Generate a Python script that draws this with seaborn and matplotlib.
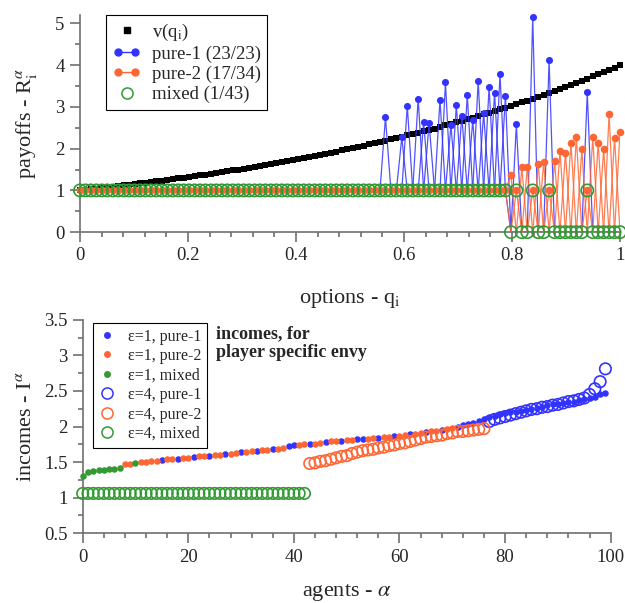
import numpy as np
import pandas as pd
import matplotlib
matplotlib.use("Agg")
import matplotlib.pyplot as plt
from matplotlib.lines import Line2D
from matplotlib.legend_handler import HandlerLine2D
from matplotlib.ticker import MultipleLocator, FormatStrFormatter
import seaborn as sns

# ---- top panel: payoffs of the 100 options ----
options = np.linspace(0, 1, 100)

v_q = [1.00, 1.01, 1.03, 1.04, 1.06, 1.07, 1.09, 1.10, 1.12, 1.13,
       1.15, 1.17, 1.18, 1.20, 1.22, 1.23, 1.25, 1.27, 1.29, 1.30,
       1.32, 1.34, 1.36, 1.38, 1.40, 1.42, 1.44, 1.46, 1.48, 1.50,
       1.52, 1.54, 1.57, 1.59, 1.61, 1.63, 1.66, 1.68, 1.70, 1.73,
       1.75, 1.78, 1.80, 1.83, 1.85, 1.88, 1.90, 1.93, 1.96, 1.99,
       2.01, 2.04, 2.07, 2.10, 2.13, 2.16, 2.19, 2.22, 2.25, 2.28,
       2.32, 2.35, 2.38, 2.42, 2.45, 2.48, 2.52, 2.56, 2.59, 2.63,
       2.67, 2.70, 2.74, 2.78, 2.82, 2.86, 2.90, 2.94, 2.98, 3.02,
       3.07, 3.11, 3.15, 3.20, 3.24, 3.29, 3.33, 3.38, 3.43, 3.48,
       3.53, 3.58, 3.63, 3.68, 3.73, 3.78, 3.84, 3.89, 3.94, 4.00]

# payoff level of the options nobody specialises in
floor = [1] * 79 + [0] * 21

pure1 = ([1] * 56
         + [2.75, 1, 1, 2.27, 3.03, 1, 3.20, 2.64, 2.61, 1, 3.17, 3.59,
            2.56, 3.04, 2.79, 3.29, 2.68, 3.63, 2.85, 3.48, 3.34, 3.78, 3.27]
         + [0, 2.58, 0, 0, 5.15, 0, 0, 4.12, 0, 0, 0, 0, 0, 0, 3.36,
            0, 0, 0, 0, 0, 0])
pure2 = ([1] * 79
         + [1.37, 1, 1.55, 1.55, 1, 1.63, 1.68, 1, 1.70, 1.94, 1.90, 2.14,
            2.28, 1.98, 1, 2.27, 2.14, 1.99, 2.84, 2.26, 2.41])
mixed = ([1] * 79
         + [0, 1, 0, 0, 1, 0, 0, 1, 0, 0, 0, 0, 0, 0, 1, 0, 0, 0, 0, 0, 0])

# ---- bottom panel: incomes of the 100 agents ----
agents = np.arange(100)

income_eps1 = [1.31, 1.36, 1.38, 1.39, 1.39, 1.40, 1.41, 1.42, 1.48, 1.48,
               1.49, 1.50, 1.50, 1.51, 1.52, 1.53, 1.54, 1.54, 1.55, 1.56,
               1.56, 1.57, 1.58, 1.58, 1.59, 1.60, 1.60, 1.61, 1.62, 1.63,
               1.64, 1.64, 1.65, 1.66, 1.67, 1.67, 1.68, 1.69, 1.70, 1.72,
               1.74, 1.74, 1.75, 1.76, 1.76, 1.77, 1.78, 1.79, 1.79, 1.80,
               1.81, 1.81, 1.82, 1.83, 1.83, 1.84, 1.84, 1.85, 1.85, 1.86,
               1.87, 1.88, 1.89, 1.90, 1.91, 1.92, 1.93, 1.94, 1.95, 1.96,
               1.98, 2.00, 2.02, 2.03, 2.05, 2.08, 2.10, 2.13, 2.15, 2.17,
               2.19, 2.20, 2.21, 2.22, 2.23, 2.24, 2.26, 2.28, 2.30, 2.31,
               2.32, 2.33, 2.34, 2.35, 2.37, 2.38, 2.40, 2.42, 2.45, 2.47]
# M = mixed, 1 = pure-1, 2 = pure-2
kind_eps1 = ("MMMMMMMM22M2222"
             "122122122122122122122122"
             "1122"
             "122122122"
             "1122"
             "122122122122122"
             "11111111111111111111111111111")

income_eps4 = ([1.06] * 43
               + [1.48, 1.49, 1.51, 1.52, 1.54, 1.56, 1.58, 1.59, 1.62, 1.64,
                  1.66, 1.67, 1.68, 1.70, 1.71, 1.73, 1.74, 1.76, 1.77, 1.79,
                  1.81, 1.83, 1.85, 1.86, 1.87, 1.88, 1.90, 1.91, 1.93, 1.93,
                  1.94, 1.95, 1.96, 1.97]
               + [2.07, 2.10, 2.12, 2.14, 2.16, 2.18, 2.20, 2.22, 2.24, 2.25,
                  2.27, 2.28, 2.30, 2.31, 2.33, 2.35, 2.36, 2.38, 2.40, 2.45,
                  2.53, 2.63, 2.81])
kind_eps4 = "M" * 43 + "2" * 34 + "1" * 23

BLUE = "#3333ff"
ORANGE = "#ff6633"
GREEN = "#339933"
GREY = "#707070"
kind_color = {"1": BLUE, "2": ORANGE, "M": GREEN}

sns.set_style("ticks")
plt.rcParams["font.family"] = ["Liberation Serif", "DejaVu Serif"]
plt.rcParams["mathtext.fontset"] = "stix"


def spike_segments(vals):
    """Line pieces: the floor line plus a peak joined to the floor of both neighbours."""
    rows = [("floor", options[j], floor[j]) for j in range(len(vals))]
    for i, val in enumerate(vals):
        if val == floor[i]:
            continue
        for j in (i - 1, i, i + 1):
            if 0 <= j < len(vals):
                rows.append((f"p{i}", options[j], val if j == i else floor[j]))
    return pd.DataFrame(rows, columns=["seg", "q", "R"])


def style_axes(ax):
    sns.despine(ax=ax)
    for side in ("left", "bottom"):
        ax.spines[side].set_color(GREY)
        ax.spines[side].set_linewidth(1.2)
    ax.tick_params(which="both", direction="out", color=GREY, width=1.2,
                   labelsize=13.5, pad=4)
    ax.tick_params(which="major", length=7)
    ax.tick_params(which="minor", length=3.5)


fig = plt.figure(figsize=(6.25, 6.03), dpi=100)
ax1 = fig.add_axes([0.128, 0.615, 0.864, 0.36])
ax2 = fig.add_axes([0.1323, 0.1156, 0.8448, 0.3542])

# --- top panel
sns.scatterplot(x=options, y=v_q, marker="s", color="black", s=22,
                linewidth=0, ax=ax1, clip_on=False, zorder=2)

seg1 = spike_segments(pure1)
sns.lineplot(data=seg1, x="q", y="R", units="seg", estimator=None, sort=False,
             color=BLUE, lw=0.9, alpha=0.85, ax=ax1, zorder=3)
peak1 = [i for i in range(100) if pure1[i] != floor[i]]
sns.scatterplot(x=options[peak1], y=[pure1[i] for i in peak1], color=BLUE,
                s=26, linewidth=0, ax=ax1, clip_on=False, zorder=3)

seg2 = spike_segments(pure2)
sns.lineplot(data=seg2, x="q", y="R", units="seg", estimator=None, sort=False,
             color=ORANGE, lw=0.9, alpha=0.85, ax=ax1, zorder=4)
sns.scatterplot(x=options, y=pure2, color=ORANGE, s=30, linewidth=0,
                ax=ax1, clip_on=False, zorder=4)

sns.scatterplot(x=options, y=mixed, color=GREEN, facecolors="none",
                edgecolor=GREEN, s=78, linewidth=1.2, ax=ax1, clip_on=False,
                zorder=5)

ax1.set_xlim(0, 1)
ax1.set_ylim(0, 5.2)
ax1.xaxis.set_major_locator(MultipleLocator(0.2))
ax1.xaxis.set_minor_locator(MultipleLocator(0.04))
ax1.yaxis.set_major_locator(MultipleLocator(1))
ax1.yaxis.set_minor_locator(MultipleLocator(0.5))
ax1.xaxis.set_major_formatter(FormatStrFormatter("%g"))
ax1.yaxis.set_major_formatter(FormatStrFormatter("%g"))
style_axes(ax1)
ax1.set_xlabel(r"options - q$_{\rm i}$", fontsize=16, labelpad=16)
ax1.set_ylabel(r"payoffs - R$_{\rm i}^{\alpha}$", fontsize=16, labelpad=12)

h_v = Line2D([], [], ls="none", marker="s", color="black", ms=4)
h_p1 = Line2D([], [], color=BLUE, marker="o", ms=5, lw=1)
h_p2 = Line2D([], [], color=ORANGE, marker="o", ms=5, lw=1)
h_mx = Line2D([], [], ls="none", marker="o", mfc="none", mec=GREEN, ms=8,
              mew=1.1)
leg1 = ax1.legend([h_v, h_p1, h_p2, h_mx],
                  [r"v(q$_{\rm i}$)", "pure-1 (23/23)", "pure-2 (17/34)",
                   "mixed (1/43)"],
                  loc="upper left", bbox_to_anchor=(0.048, 1.0), numpoints=2,
                  handler_map={h_v: HandlerLine2D(numpoints=1),
                               h_mx: HandlerLine2D(numpoints=1)},
                  fancybox=False, edgecolor="black", framealpha=1,
                  fontsize=13.5, handlelength=1.5, handletextpad=0.6,
                  labelspacing=0.15, borderpad=0.35, borderaxespad=0)
leg1.get_frame().set_linewidth(0.8)

# --- bottom panel
for code in ("1", "2", "M"):
    idx = [k for k in agents if kind_eps1[k] == code]
    sns.scatterplot(x=agents[idx], y=[income_eps1[k] for k in idx],
                    color=kind_color[code], s=22, linewidth=0, ax=ax2,
                    clip_on=False, zorder=3)
for code in ("1", "2", "M"):
    idx = [k for k in agents if kind_eps4[k] == code]
    sns.scatterplot(x=agents[idx], y=[income_eps4[k] for k in idx],
                    color=kind_color[code], facecolors="none",
                    edgecolor=kind_color[code], s=68, linewidth=1.2, ax=ax2,
                    clip_on=False, zorder=4)

ax2.set_xlim(0, 100)
ax2.set_ylim(0.5, 3.5)
ax2.xaxis.set_major_locator(MultipleLocator(20))
ax2.xaxis.set_minor_locator(MultipleLocator(4))
ax2.yaxis.set_major_locator(MultipleLocator(0.5))
ax2.yaxis.set_minor_locator(MultipleLocator(0.25))
ax2.yaxis.set_major_formatter(FormatStrFormatter("%g"))
style_axes(ax2)
ax2.set_xlabel(r"agents - $\alpha$", fontsize=16, labelpad=12)
ax2.set_ylabel(r"incomes - I$^{\alpha}$", fontsize=16, labelpad=6)

handles2, labels2 = [], []
for eps, filled in (("1", True), ("4", False)):
    for code, label in (("1", "pure-1"), ("2", "pure-2"), ("M", "mixed")):
        col = kind_color[code]
        handles2.append(Line2D([], [], ls="none", marker="o",
                               mfc=col if filled else "none", mec=col,
                               ms=5 if filled else 8, mew=0 if filled else 1.1))
        labels2.append(f"\u03b5={eps}, {label}")
leg2 = ax2.legend(handles2, labels2, loc="upper left",
                  bbox_to_anchor=(0.02, 0.985), numpoints=1, fancybox=False,
                  edgecolor="black", framealpha=1, fontsize=11.5,
                  handlelength=1.0, handletextpad=0.8, labelspacing=0.22,
                  borderpad=0.35, borderaxespad=0)
leg2.get_frame().set_linewidth(0.8)

ax2.text(0.252, 0.975, "incomes, for\nplayer specific envy",
         transform=ax2.transAxes, ha="left", va="top", fontsize=13,
         fontweight="bold", linespacing=1.15)

fig.savefig("out.png", dpi=100)
